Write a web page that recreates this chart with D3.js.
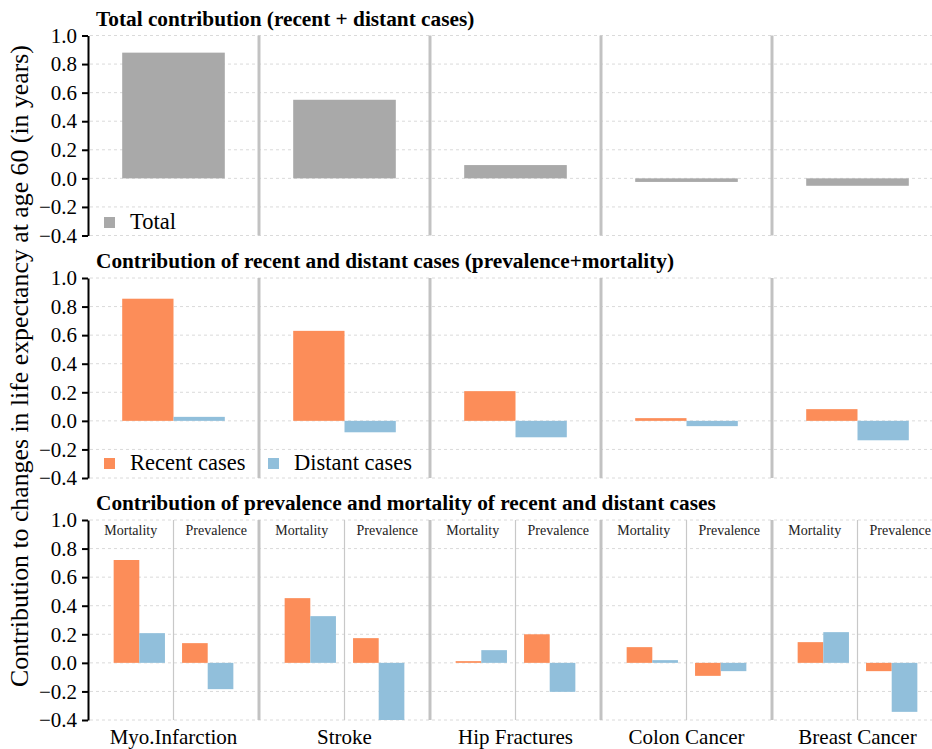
<!DOCTYPE html>
<html>
<head>
<meta charset="utf-8">
<script src="https://cdn.jsdelivr.net/npm/d3@7"></script>
<style>
  html, body { margin: 0; padding: 0; background: #fff; overflow: hidden; }
  svg { display: block; }
  svg text { font-family: "Liberation Serif", "Times New Roman", serif; }
</style>
</head>
<body>
<svg id="chart" width="932" height="749"></svg>
<script>
// ---------- data ----------
const diseases = ["Myo.Infarction", "Stroke", "Hip Fractures", "Colon Cancer", "Breast Cancer"];
const totalValues = [0.88, 0.55, 0.093, -0.025, -0.052];
const recentValues = [0.855, 0.63, 0.208, 0.019, 0.082];
const distantValues = [0.028, -0.08, -0.115, -0.037, -0.136];
const components = ["Mortality", "Prevalence"];
const mortRecent = [0.72, 0.453, 0.012, 0.11, 0.145];
const mortDistant = [0.208, 0.327, 0.089, 0.019, 0.215];
const prevRecent = [0.138, 0.173, 0.20, -0.091, -0.058];
const prevDistant = [-0.184, -0.40, -0.203, -0.058, -0.343];
const yTicks = [1.0, 0.8, 0.6, 0.4, 0.2, 0.0, -0.2, -0.4];
const titles = [
  "Total contribution (recent + distant cases)",
  "Contribution of recent and distant cases (prevalence+mortality)",
  "Contribution of prevalence and mortality of recent and distant cases"
];
const yLabel = "Contribution to changes in life expectancy at age 60 (in years)";

const colTotal = "#a9a9a9", colRecent = "#fc8d59", colDistant = "#91bfdb";

// ---------- layout ----------
const svg = d3.select("#chart");
const xLeft = 88, xRight = 943;
const x = d3.scaleBand().domain(diseases).range([xLeft, xRight]).padding(0);
const bw = x.bandwidth();

const panels = [
  {top: 35.5, bottom: 235.5, titleY: 26},
  {top: 278, bottom: 478, titleY: 268},
  {top: 520, bottom: 720, titleY: 510}
];

panels.forEach((p, i) => {
  p.y = d3.scaleLinear().domain([-0.4, 1.0]).range([p.bottom, p.top]);
  const g = svg.append("g");
  p.g = g;
  // gridlines
  g.selectAll("line.grid").data(yTicks).join("line")
    .attr("x1", xLeft + 2).attr("x2", 932)
    .attr("y1", d => p.y(d)).attr("y2", d => p.y(d))
    .attr("stroke", "#dadada").attr("stroke-width", 1)
    .attr("stroke-dasharray", "3,3");
  // group separators
  g.selectAll("line.sep").data(diseases.slice(1)).join("line")
    .attr("x1", d => x(d)).attr("x2", d => x(d))
    .attr("y1", p.y(1.0)).attr("y2", p.y(-0.4))
    .attr("stroke", "#c2c2c2").attr("stroke-width", 3);
  // title
  svg.append("text").attr("x", 96).attr("y", p.titleY)
    .attr("font-weight", "bold").attr("font-size", 21.3).attr("fill", "#000")
    .text(titles[i]);
});

// ---------- panel 1 ----------
{
  const p = panels[0];
  p.g.selectAll("rect.tot").data(diseases).join("rect")
    .attr("x", d => x(d) + 0.2 * bw).attr("width", 0.6 * bw)
    .attr("y", (d, i) => p.y(Math.max(0, totalValues[i])))
    .attr("height", (d, i) => Math.abs(p.y(totalValues[i]) - p.y(0)))
    .attr("fill", colTotal);
}

// ---------- panel 2 ----------
{
  const p = panels[1];
  const series = ["Recent", "Distant"];
  const inner = d3.scaleBand().domain(series).range([0.2 * bw, 0.8 * bw]).padding(0);
  const vals = {Recent: recentValues, Distant: distantValues};
  const cols = {Recent: colRecent, Distant: colDistant};
  series.forEach(s => {
    p.g.selectAll("rect." + s).data(diseases).join("rect")
      .attr("x", d => x(d) + inner(s)).attr("width", inner.bandwidth())
      .attr("y", (d, i) => p.y(Math.max(0, vals[s][i])))
      .attr("height", (d, i) => Math.abs(p.y(vals[s][i]) - p.y(0)))
      .attr("fill", cols[s]);
  });
}

// ---------- panel 3 ----------
{
  const p = panels[2];
  const comp = d3.scaleBand().domain(components).range([0.15 * bw, 0.85 * bw]).paddingInner(0.25).paddingOuter(0);
  const half = d3.scaleBand().domain(components).range([0, bw]).padding(0);
  const series = ["Recent", "Distant"];
  const inner = d3.scaleBand().domain(series).range([0, comp.bandwidth()]).padding(0);
  const vals = {
    Mortality: {Recent: mortRecent, Distant: mortDistant},
    Prevalence: {Recent: prevRecent, Distant: prevDistant}
  };
  const cols = {Recent: colRecent, Distant: colDistant};
  // sub-separators
  p.g.selectAll("line.sub").data(diseases).join("line")
    .attr("x1", d => x(d) + half("Prevalence")).attr("x2", d => x(d) + half("Prevalence"))
    .attr("y1", p.y(1.0)).attr("y2", p.y(-0.4))
    .attr("stroke", "#c8c8c8").attr("stroke-width", 1.2);
  diseases.forEach((d, di) => {
    components.forEach(c => {
      p.g.append("text")
        .attr("x", x(d) + half(c) + half.bandwidth() / 2).attr("y", 535)
        .attr("text-anchor", "middle").attr("font-size", 14).attr("fill", "#222")
        .text(c);
      series.forEach(s => {
        const v = vals[c][s][di];
        p.g.append("rect")
          .attr("x", x(d) + comp(c) + inner(s)).attr("width", inner.bandwidth())
          .attr("y", p.y(Math.max(0, v)))
          .attr("height", Math.abs(p.y(v) - p.y(0)))
          .attr("fill", cols[s]);
      });
    });
  });
  // x labels
  svg.selectAll("text.xl").data(diseases).join("text")
    .attr("x", d => x(d) + bw / 2).attr("y", 744)
    .attr("text-anchor", "middle").attr("font-size", 21).attr("fill", "#000")
    .text(d => d);
}

// ---------- axes ----------
panels.forEach(p => {
  const ax = svg.append("g").attr("transform", `translate(${xLeft},0)`)
    .call(d3.axisLeft(p.y).tickValues(yTicks).tickFormat(d3.format(".1f")).tickSize(6).tickSizeOuter(0).tickPadding(5));
  ax.attr("font-family", null).attr("font-size", null);
  ax.select(".domain").attr("stroke", "#000").attr("stroke-width", 2);
  ax.selectAll(".tick line").attr("stroke", "#000").attr("stroke-width", 2);
  ax.selectAll(".tick text").attr("font-size", 21).attr("fill", "#000");
});

// ---------- legends ----------
function legendItem(px, py, color, label) {
  svg.append("rect").attr("x", px).attr("y", py - 11).attr("width", 11).attr("height", 11).attr("fill", color);
  svg.append("text").attr("x", px + 26).attr("y", py + 1).attr("font-size", 22.5).attr("fill", "#000").text(label);
}
legendItem(104, 228, colTotal, "Total");
legendItem(104, 469, colRecent, "Recent cases");
legendItem(268, 469, colDistant, "Distant cases");

// ---------- y label ----------
svg.append("text")
  .attr("transform", "translate(28,366) rotate(-90)")
  .attr("text-anchor", "middle").attr("font-size", 25.8).attr("fill", "#000")
  .text(yLabel);
</script>
</body>
</html>
